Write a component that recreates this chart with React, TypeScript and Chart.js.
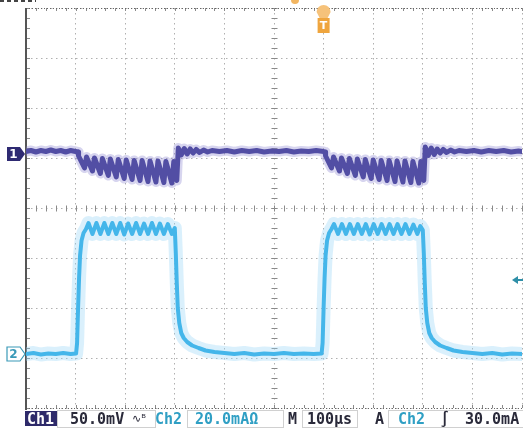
import React, { useEffect, useRef } from 'react';
import { Chart, registerables } from 'chart.js';
Chart.register(...registerables);

// time axis in microseconds (100 µs / division), vertical values in screen divisions
const ch1Time = [
  0, 10, 20, 30, 40, 50, 60, 70, 80, 90, 100, 105,
  106, 118, 122, 134, 138, 150, 154, 166, 170, 182, 186, 198, 202, 214, 218, 230,
  234, 246, 250, 262, 266, 278, 282, 294, 298, 304,
  307, 313, 319, 325, 331, 337, 343, 350, 358, 366, 375,
  390, 405, 420, 435, 450, 465, 480, 495, 510, 525, 540, 555, 570, 585, 600, 603,
  604, 616, 620, 632, 636, 648, 652, 664, 668, 680, 684, 696, 700, 712, 716, 728,
  732, 744, 748, 760, 764, 776, 780, 792, 796, 802,
  805, 811, 817, 823, 829, 835, 841, 848, 856, 864, 873,
  888, 903, 918, 933, 948, 963, 978, 993, 1000,
];
const ch1Div = [
  1.13, 1.15, 1.12, 1.15, 1.13, 1.16, 1.13, 1.15, 1.12, 1.15, 1.13, 1.12,
  1.04, 0.8, 1.02, 0.74, 1.0, 0.69, 0.99, 0.65, 0.98, 0.62, 0.97, 0.59, 0.96, 0.57, 0.95, 0.55,
  0.95, 0.53, 0.94, 0.52, 0.94, 0.51, 0.93, 0.5, 0.93, 0.55,
  1.2, 1.06, 1.19, 1.08, 1.18, 1.1, 1.17, 1.11, 1.16, 1.12, 1.15,
  1.13, 1.15, 1.12, 1.15, 1.13, 1.15, 1.12, 1.14, 1.13, 1.15, 1.12, 1.14, 1.13, 1.15, 1.13, 1.12,
  1.04, 0.8, 1.02, 0.74, 1.0, 0.69, 0.99, 0.65, 0.98, 0.62, 0.97, 0.59, 0.96, 0.57, 0.95, 0.55,
  0.95, 0.53, 0.94, 0.52, 0.94, 0.51, 0.93, 0.5, 0.93, 0.55,
  1.22, 1.05, 1.2, 1.07, 1.18, 1.1, 1.17, 1.11, 1.16, 1.12, 1.15,
  1.13, 1.15, 1.12, 1.15, 1.13, 1.15, 1.12, 1.14, 1.13,
];

const ch2Time = [
  0, 15, 30, 45, 60, 75, 90, 101,
  103, 105, 107, 109, 112, 116, 121,
  126, 134, 142, 150, 158, 166, 174, 182, 190, 198, 206, 214, 222, 230,
  238, 246, 254, 262, 270, 278, 286, 294, 300,
  302, 304, 306, 309, 313, 318, 325, 335, 348, 362, 380, 400,
  420, 440, 460, 480, 500, 520, 540, 560, 580, 596,
  598, 600, 602, 604, 607, 611, 616,
  621, 629, 637, 645, 653, 661, 669, 677, 685, 693, 701, 709, 717, 725,
  733, 741, 749, 757, 765, 773, 781, 789, 795, 800,
  802, 804, 806, 809, 813, 818, 825, 835, 848, 862, 880, 900,
  920, 940, 960, 980, 1000,
];
const ch2Div = [
  -2.92, -2.9, -2.93, -2.91, -2.92, -2.9, -2.92, -2.91,
  -2.7, -2.0, -1.4, -0.95, -0.65, -0.5, -0.42,
  -0.3, -0.52, -0.3, -0.52, -0.3, -0.52, -0.3, -0.52, -0.3, -0.53, -0.31, -0.52, -0.3, -0.52,
  -0.31, -0.52, -0.3, -0.52, -0.31, -0.52, -0.32, -0.52, -0.4,
  -0.9, -1.5, -2.0, -2.3, -2.5, -2.6, -2.68, -2.75, -2.8, -2.85, -2.88, -2.9,
  -2.92, -2.9, -2.93, -2.91, -2.92, -2.9, -2.92, -2.91, -2.92, -2.91,
  -2.7, -2.0, -1.4, -0.95, -0.65, -0.5, -0.42,
  -0.32, -0.52, -0.32, -0.52, -0.32, -0.52, -0.32, -0.52, -0.32, -0.53, -0.32, -0.52, -0.32, -0.52,
  -0.32, -0.52, -0.32, -0.52, -0.32, -0.52, -0.33, -0.52, -0.36, -0.44,
  -0.9, -1.5, -2.0, -2.3, -2.5, -2.6, -2.68, -2.75, -2.8, -2.85, -2.88, -2.9,
  -2.92, -2.9, -2.93, -2.91, -2.92,
];

const ch1Ref = 1.08; // channel 1 ground marker (div)
const ch2Ref = -2.92; // channel 2 ground marker (div)
const triggerTime = 600; // µs
const triggerLevel = -1.44; // div
const timeMin = 0;
const timeMax = 1000;
const divMin = -4;
const divMax = 4;

const statusLabels = ['Ch1', '50.0mV', 'Ch2', '20.0mAΩ', 'M', '100µs', 'A', 'Ch2', '∫', '30.0mA'];

const scopePlugin = {
  id: 'scopeDecor',
  beforeDatasetsDraw(chart: any) {
    const { ctx, chartArea: a, scales } = chart;
    const xs = scales.x;
    const ys = scales.y;
    ctx.save();
    ctx.strokeStyle = '#8a8a8a';
    ctx.lineWidth = 1;
    const cx = Math.round(xs.getPixelForValue((timeMin + timeMax) / 2)) + 0.5;
    const cy = Math.round(ys.getPixelForValue(0)) + 0.5;
    ctx.beginPath();
    for (let i = 0; i <= 50; i++) {
      const px = Math.round(xs.getPixelForValue(timeMin + (i * (timeMax - timeMin)) / 50)) + 0.5;
      ctx.moveTo(px, cy - 3); ctx.lineTo(px, cy + 3);
      ctx.moveTo(px, a.top); ctx.lineTo(px, a.top + 3);
      ctx.moveTo(px, a.bottom); ctx.lineTo(px, a.bottom - 3);
    }
    for (let i = 0; i <= 40; i++) {
      const py = Math.round(ys.getPixelForValue(divMin + (i * (divMax - divMin)) / 40)) + 0.5;
      ctx.moveTo(cx - 3, py); ctx.lineTo(cx + 3, py);
      ctx.moveTo(a.left, py); ctx.lineTo(a.left + 4, py);
    }
    ctx.stroke();
    ctx.setLineDash([1, 2]);
    ctx.strokeStyle = '#666';
    ctx.beginPath();
    ctx.moveTo(a.left, a.top + 0.5); ctx.lineTo(a.right, a.top + 0.5);
    ctx.moveTo(a.left, a.bottom + 0.5); ctx.lineTo(a.right, a.bottom + 0.5);
    ctx.stroke();
    ctx.setLineDash([]);
    ctx.strokeStyle = '#555';
    ctx.lineWidth = 2;
    ctx.beginPath();
    ctx.moveTo(a.left, a.top); ctx.lineTo(a.left, a.bottom + 2);
    ctx.stroke();
    ctx.lineWidth = 2;
    ctx.setLineDash([4, 3]);
    ctx.strokeStyle = '#444';
    ctx.beginPath();
    ctx.moveTo(0, 1); ctx.lineTo(36, 1);
    ctx.stroke();
    ctx.restore();
  },
  afterDatasetsDraw(chart: any) {
    const { ctx, scales } = chart;
    const xs = scales.x;
    const ys = scales.y;
    ctx.save();
    let py = ys.getPixelForValue(ch1Ref);
    ctx.fillStyle = '#2e2a72';
    ctx.beginPath();
    ctx.moveTo(7, py - 7); ctx.lineTo(20, py - 7); ctx.lineTo(25, py); ctx.lineTo(20, py + 7); ctx.lineTo(7, py + 7);
    ctx.closePath(); ctx.fill();
    ctx.fillStyle = '#ffffff';
    ctx.font = 'bold 12px "DejaVu Sans"';
    ctx.textAlign = 'center';
    ctx.textBaseline = 'middle';
    ctx.fillText('1', 13.5, py + 1);
    py = ys.getPixelForValue(ch2Ref);
    ctx.fillStyle = '#ffffff';
    ctx.strokeStyle = '#3a9ab8';
    ctx.lineWidth = 1.2;
    ctx.beginPath();
    ctx.moveTo(7, py - 7); ctx.lineTo(20, py - 7); ctx.lineTo(25, py); ctx.lineTo(20, py + 7); ctx.lineTo(7, py + 7);
    ctx.closePath(); ctx.fill(); ctx.stroke();
    ctx.fillStyle = '#3a9ab8';
    ctx.fillText('2', 13.5, py + 1);
    const tx = xs.getPixelForValue(triggerTime);
    ctx.fillStyle = '#f6c27a';
    ctx.beginPath();
    ctx.arc(tx, 12, 7, Math.PI, 0);
    ctx.lineTo(tx + 4, 18); ctx.lineTo(tx - 4, 18);
    ctx.closePath(); ctx.fill();
    ctx.fillStyle = '#efa53e';
    ctx.fillRect(tx - 6, 18, 12, 15);
    ctx.fillStyle = '#ffffff';
    ctx.font = 'bold 11px "DejaVu Sans"';
    ctx.fillText('T', tx, 26);
    ctx.fillStyle = '#f2b560';
    ctx.beginPath();
    ctx.arc(295, 0, 4, 0, Math.PI);
    ctx.fill();
    const ly = ys.getPixelForValue(triggerLevel);
    ctx.fillStyle = '#2f8fa8';
    ctx.beginPath();
    ctx.moveTo(512, ly); ctx.lineTo(518, ly - 4); ctx.lineTo(518, ly + 4); ctx.closePath(); ctx.fill();
    ctx.fillRect(517, ly - 1, 6, 2);
    ctx.restore();
  },
  afterDraw(chart: any) {
    const { ctx } = chart;
    ctx.save();
    ctx.strokeStyle = '#d0d0d0';
    ctx.lineWidth = 1;
    ctx.strokeRect(57.5, 410.5, 98, 17);
    ctx.strokeRect(187.5, 410.5, 96, 17);
    ctx.strokeRect(302.5, 410.5, 55, 17);
    ctx.strokeRect(388.5, 410.5, 140, 17);
    ctx.fillStyle = '#2e2a6a';
    ctx.fillRect(25, 411, 32, 15);
    ctx.textAlign = 'left';
    ctx.textBaseline = 'alphabetic';
    ctx.font = 'bold 15px "DejaVu Sans Mono"';
    const base = 424;
    const pos = [27, 70, 155, 195, 288, 307, 375, 398, 440, 465];
    const cols = ['#ffffff', '#2a2a3a', '#2f9fc4', '#2f9fc4', '#2a2a3a', '#2a2a3a', '#2a2a3a', '#2f9fc4', '#2a2a3a', '#2a2a3a'];
    statusLabels.forEach((s, i) => {
      ctx.fillStyle = cols[i];
      ctx.fillText(s, pos[i], base);
    });
    ctx.font = '11px "DejaVu Sans"';
    ctx.fillStyle = '#2a2a3a';
    ctx.fillText('∿ᴮ', 132, base - 2);
    ctx.restore();
  },
};

export default function App() {
  const ref = useRef<HTMLCanvasElement | null>(null);
  useEffect(() => {
    if (!ref.current) return;
    const ch1 = ch1Time.map((t, i) => ({ x: t, y: ch1Div[i] }));
    const ch2 = ch2Time.map((t, i) => ({ x: t, y: ch2Div[i] }));
    const common = { pointRadius: 0, tension: 0, fill: false, borderJoinStyle: 'round' as const, borderCapStyle: 'round' as const };
    const chart = new Chart(ref.current, {
      type: 'line',
      data: {
        datasets: [
          { ...common, label: 'Ch2 glow', data: ch2, borderColor: 'rgba(150,212,245,0.35)', borderWidth: 14 },
          { ...common, label: 'Ch2', data: ch2, borderColor: '#1aa6e4', borderWidth: 4 },
          { ...common, label: 'Ch1 glow', data: ch1, borderColor: 'rgba(140,135,210,0.35)', borderWidth: 10 },
          { ...common, label: 'Ch1', data: ch1, borderColor: '#34308c', borderWidth: 5 },
        ],
      },
      options: {
        responsive: false,
        animation: false,
        events: [],
        layout: { padding: { left: 26, right: 1, top: 8, bottom: 22 } },
        plugins: { legend: { display: false }, tooltip: { enabled: false } },
        scales: {
          x: {
            type: 'linear', min: timeMin, max: timeMax,
            ticks: { display: false, stepSize: 100 },
            grid: { color: '#b0b0b0', lineWidth: 1, drawTicks: false },
            border: { display: false, dash: [1.5, 3.5] },
          },
          y: {
            type: 'linear', min: divMin, max: divMax,
            ticks: { display: false, stepSize: 1 },
            grid: { color: '#b0b0b0', lineWidth: 1, drawTicks: false },
            border: { display: false, dash: [1.5, 3.5] },
          },
        },
      },
      plugins: [scopePlugin],
    });
    return () => chart.destroy();
  }, []);
  return (
    <div style={{ position: 'absolute', left: 0, top: 0, width: 523, height: 430, background: '#fff' }}>
      <canvas ref={ref} width={523} height={430} />
    </div>
  );
}
